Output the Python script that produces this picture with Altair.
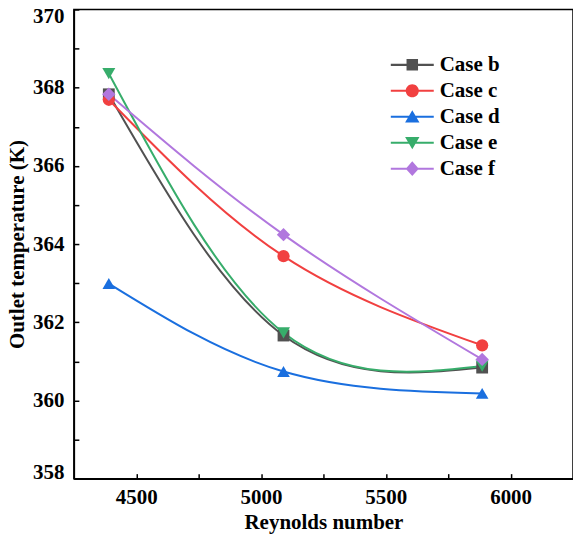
import altair as alt
import pandas as pd

# ---- data ----
reynolds = [4390, 5090, 5886]
cases = ["Case b", "Case c", "Case d", "Case e", "Case f"]
case_b = [367.83, 361.66, 360.84]
case_c = [367.69, 363.69, 361.41]
case_d = [362.99, 360.74, 360.18]
case_e = [368.36, 361.73, 360.88]
case_f = [367.83, 364.24, 361.05]
x_ticks = [4500, 5000, 5500, 6000]
x_minor = [4500, 4750, 5000, 5250, 5500, 5750, 6000]
y_ticks = [358, 360, 362, 364, 366, 368, 370]
y_minor = list(range(358, 371))

colors = ["#515151", "#F14040", "#1A6FDF", "#37AD6B", "#B177DE"]
shapes = ["square", "circle", "triangle-up", "triangle-down", "diamond"]
sizes = [140, 180, 210, 210, 210]

# legend symbols: line + marker as one custom path (unit = 8 px)
line_p = "M-2.69,-0.13L2.69,-0.13L2.69,0.13L-2.69,0.13Z"
marker_p = [
    "M-0.72,-0.72L0.72,-0.72L0.72,0.72L-0.72,0.72Z",
    "M0.82,0A0.82,0.82 0 1,1 -0.82,0A0.82,0.82 0 1,1 0.82,0Z",
    "M0,-0.82L0.9,0.72L-0.9,0.72Z",
    "M0,0.82L-0.9,-0.72L0.9,-0.72Z",
    "M0,-0.92L0.82,0L0,0.92L-0.82,0Z",
]
legend_paths = [line_p + m for m in marker_p]

series = [case_b, case_c, case_d, case_e, case_f]
rows = []
for name, vals in zip(cases, series):
    for r, v in zip(reynolds, vals):
        rows.append({"Re": r, "T": v, "case": name})
df = pd.DataFrame(rows)

FONT = "Liberation Serif"
xdom = [4250, 6250]
ydom = [358, 370]

base = alt.Chart(df)

lines = base.mark_line(interpolate="natural", strokeWidth=2).encode(
    x=alt.X("Re:Q", scale=alt.Scale(domain=xdom, nice=False, zero=False),
            axis=alt.Axis(values=x_ticks, ticks=False, grid=False, format="d",
                          title="Reynolds number", labelFont=FONT, labelFontSize=21,
                          labelFontWeight="bold", labelColor="black", labelPadding=8,
                          titleFont=FONT, titleFontSize=21, titleFontWeight="bold",
                          titleColor="black", titlePadding=4,
                          domainColor="black", domainWidth=1.5)),
    y=alt.Y("T:Q", scale=alt.Scale(domain=ydom, nice=False, zero=False),
            axis=alt.Axis(values=y_ticks, ticks=False, grid=False, labelFlush=True,
                          labelFlushOffset=4,
                          title="Outlet temperature (K)", labelFont=FONT, labelFontSize=21,
                          labelFontWeight="bold", labelColor="black", labelPadding=10,
                          titleFont=FONT, titleFontSize=21, titleFontWeight="bold",
                          titleColor="black", titlePadding=5,
                          domainColor="black", domainWidth=1.5)),
    color=alt.Color("case:N", scale=alt.Scale(domain=cases, range=colors), legend=None),
    detail="case:N",
)

points = base.mark_point(filled=True, opacity=1).encode(
    x=alt.X("Re:Q", scale=alt.Scale(domain=xdom, nice=False, zero=False),
            axis=alt.Axis(orient="top", offset=-470, values=x_minor, labels=False,
                          domain=False, grid=False, tickSize=5, tickWidth=1.5,
                          tickColor="black", title=None)),
    y=alt.Y("T:Q", scale=alt.Scale(domain=ydom, nice=False, zero=False),
            axis=alt.Axis(orient="right", offset=-500, values=y_minor, labels=False,
                          domain=False, grid=False, tickSize=5, tickWidth=1.5,
                          tickColor="black", title=None)),
    color=alt.Color("case:N", scale=alt.Scale(domain=cases, range=colors), legend=None),
    shape=alt.Shape("case:N", scale=alt.Scale(domain=cases, range=shapes), legend=None),
    size=alt.Size("case:N", scale=alt.Scale(domain=cases, range=sizes), legend=None),
)

leg_kw = dict(title=None, orient="none", legendX=328.5, legendY=45, padding=0,
              symbolSize=256, symbolStrokeWidth=0, labelOffset=17,
              labelFont=FONT, labelFontSize=21, labelFontWeight="bold",
              labelColor="black", rowPadding=4)

legend_layer = base.transform_filter("false").mark_point(filled=True, opacity=1).encode(
    color=alt.Color("case:N", scale=alt.Scale(domain=cases, range=colors),
                    legend=alt.Legend(**leg_kw)),
    shape=alt.Shape("case:N", scale=alt.Scale(domain=cases, range=legend_paths),
                    legend=alt.Legend(**leg_kw)),
)

chart = alt.layer(lines, points, legend_layer).resolve_scale(
    x="independent", y="independent", color="independent", shape="independent"
).properties(
    width=500, height=470,
    autosize=alt.AutoSizeParams(type="none"),
    padding={"left": 74, "top": 9, "right": 0, "bottom": 65},
    background="white",
).configure_view(stroke="black", strokeWidth=1.5)

chart.save("out.html", embed_options={"renderer": "svg", "actions": False})
